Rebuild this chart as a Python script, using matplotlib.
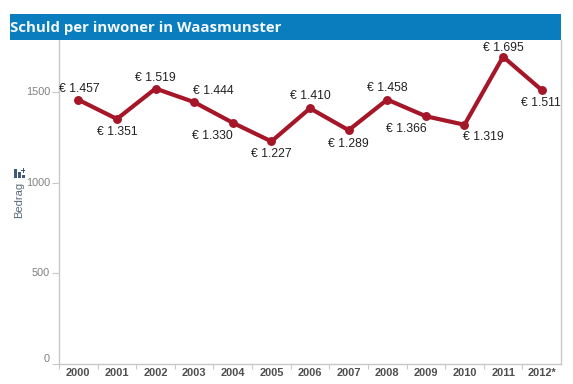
import matplotlib
matplotlib.use("Agg")
import matplotlib.pyplot as plt
from matplotlib.patches import Rectangle

years = ["2000","2001","2002","2003","2004","2005","2006","2007","2008","2009","2010","2011","2012*"]
values = [1457,1351,1519,1444,1330,1227,1410,1289,1458,1366,1319,1695,1511]
labels = ["€ 1.457","€ 1.351","€ 1.519","€ 1.444","€ 1.330","€ 1.227","€ 1.410","€ 1.289","€ 1.458","€ 1.366","€ 1.319","€ 1.695","€ 1.511"]
label_dx = [1,0,0,19,-20,0,0,0,0,-20,19,0,-1]
label_dy = [11,-13,11,11,-13,-13,12,-14,12,-13,-12,9,-13]
y_ticks = [0,500,1000,1500]
title = "Schuld per inwoner in Waasmunster"
y_name = "Bedrag"

W, H = 573, 384
fig = plt.figure(figsize=(W/100, H/100), dpi=100, facecolor="white")
L, R, T, B = 59, 561, 40, 363.5
ax = fig.add_axes([L/W, 1-B/H, (R-L)/W, (B-T)/H])
ax.set_xlim(-0.5, 12.5)
ax.set_ylim(0, (B-T)/90.5*500)

ax.spines["top"].set_visible(False)
for s in ["left","right","bottom"]:
    ax.spines[s].set_color("#c8c8c8")
    ax.spines[s].set_linewidth(1)

xs = list(range(len(years)))
ax.plot(xs, values, color="#a51728", lw=3.0, marker="o", ms=5.4, solid_capstyle="round", solid_joinstyle="round", clip_on=False)

px = 72/100
for x, v, t, dx, dy in zip(xs, values, labels, label_dx, label_dy):
    ax.annotate(t, (x, v), xytext=(dx*px, dy*px), textcoords="offset points",
                ha="center", va="center", fontsize=8.8, family="Liberation Sans", color="#222222")

ax.set_yticks(y_ticks)
ax.tick_params(axis="y", length=5, width=0.8, color="#c8c8c8", labelcolor="#808080", labelsize=7.8, pad=1.5)
for lab in ax.get_yticklabels():
    lab.set_family("Liberation Sans")
    lab.set_verticalalignment("center")
ax.get_yticklabels()[0].set_verticalalignment("bottom")
ax.set_xticks(xs)
ax.set_xticklabels(years, family="Liberation Sans", fontsize=7.9, fontweight="bold", color="#4f4f4f")
ax.tick_params(axis="x", length=0, pad=3.5)
ax.set_xticks([i-0.5 for i in range(0, 13)], minor=True)
ax.tick_params(axis="x", which="minor", length=3.5, width=0.8, color="#c8c8c8")

# title band
fig.patches.append(Rectangle((10/W, 1-40/H), (561-10)/W, 26/H, transform=fig.transFigure, facecolor="#0a7dbe", edgecolor="none"))
fig.text(10/W, 1-28/H, title, ha="left", va="center", fontsize=10.8, fontweight="bold", family="Open Sans", color="#f2f8fc")

# field icon and axis name
for x0, y0, w, h in [(14,169,3,9),(18,172,3,6),(22,175,3,3),(21,170,4,1),(22.5,168,1,5)]:
    fig.patches.append(Rectangle((x0/W, 1-(y0+h)/H), w/W, h/H, transform=fig.transFigure, facecolor="#3f5a78", edgecolor="none"))
fig.text(19/W, 1-200/H, y_name, rotation=90, ha="center", va="center", fontsize=8, family="Liberation Sans", color="#5a6a7a")

fig.savefig("out.png", dpi=100, facecolor="white")
